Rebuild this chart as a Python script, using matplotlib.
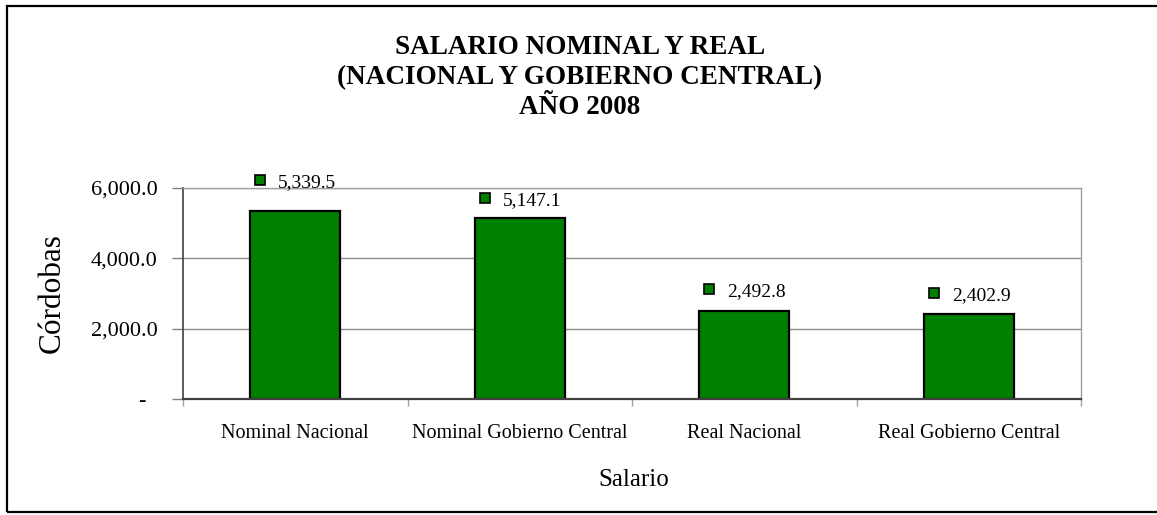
import matplotlib
matplotlib.use("Agg")
import matplotlib.pyplot as plt
import matplotlib.transforms as mtransforms
from matplotlib.patches import Rectangle

categories = ["Nominal Nacional", "Nominal Gobierno Central", "Real Nacional", "Real Gobierno Central"]
values = [5339.5, 5147.1, 2492.8, 2402.9]
value_labels = ["5,339.5", "5,147.1", "2,492.8", "2,402.9"]
yticks = [0, 2000, 4000, 6000]
ytick_labels = ["-  ", "2,000.0", "4,000.0", "6,000.0"]
title = "SALARIO NOMINAL Y REAL\n(NACIONAL Y GOBIERNO CENTRAL)\nAÑO 2008"

# layout constants (pixel offsets of data labels above bar tops)
label_offsets_px = [31, 20, 22, 21]

W, H, DPI = 1157, 515, 100
plt.rcParams['font.family'] = ['Liberation Serif', 'DejaVu Serif']

fig = plt.figure(figsize=(W / DPI, H / DPI), dpi=DPI)
fig.patch.set_facecolor("white")

# outer border
fig.patches.append(Rectangle((7 / W, 3 / H), 1.2, (H - 9) / H, transform=fig.transFigure,
                             fill=False, edgecolor="black", linewidth=1.6, clip_on=False))

ax = fig.add_axes([183 / W, (H - 399) / H, (1081 - 183) / W, (399 - 188) / H])
green = "#008000"
x = list(range(len(categories)))
ax.bar(x, values, width=0.4, color=green, edgecolor="black", linewidth=1.6, zorder=3)

ax.set_xlim(-0.5, len(categories) - 0.5)
ax.set_ylim(0, 6000)

ax.grid(axis="y", color="#8c8c8c", linewidth=1.0, zorder=0)
ax.set_yticks(yticks)
ax.set_yticklabels(ytick_labels)
ax.tick_params(axis="y", direction="out", length=8, width=1.0, color="#808080", labelsize=16, pad=10.5)

ax.set_xticks([i - 0.5 for i in range(len(categories) + 1)])
ax.set_xticklabels([])
ax.tick_params(axis="x", which="major", direction="out", length=5, width=1.0, color="#a0a0a0")
ax.set_xticks(x, minor=True)
ax.set_xticklabels(categories, minor=True)
ax.tick_params(axis="x", which="minor", length=0, labelsize=14.5, pad=18)

for s in ["top", "right"]:
    ax.spines[s].set_color("#a0a0a0")
    ax.spines[s].set_linewidth(1.0)
ax.spines["left"].set_color("#404040")
ax.spines["bottom"].set_color("#404040")
ax.spines["left"].set_linewidth(1.2)
ax.spines["bottom"].set_linewidth(1.6)
ax.spines["bottom"].set_zorder(4)

for i, (v, t) in enumerate(zip(values, value_labels)):
    off = label_offsets_px[i] * 72 / DPI
    ax.plot([i], [v], marker="s", markersize=7.5, markerfacecolor=green, markeredgecolor="black",
            markeredgewidth=1.2, linestyle="none", clip_on=False, zorder=5,
            transform=ax.transData + mtransforms.ScaledTranslation(-35 / DPI, label_offsets_px[i] / DPI,
                                                                  fig.dpi_scale_trans))
    ax.annotate(t, xy=(i, v), xytext=(-17 * 72 / DPI, off - 7 * 72 / DPI), textcoords="offset points",
                ha="left", va="baseline", fontsize=14, annotation_clip=False)

ax.set_ylabel("Córdobas", fontsize=22.5)
ax.yaxis.set_label_coords((52 - 183) / (1081 - 183), 0.5)
ax.set_xlabel("Salario", fontsize=18)
ax.xaxis.set_label_coords((634 - 183) / (1081 - 183), -(480 - 399) / (399 - 188))
ax.xaxis.label.set_va("center")
ax.yaxis.label.set_va("center")

fig.text(580 / W, 1 - 35 / H, title, ha="center", va="top", fontsize=19.5, fontweight="bold",
         linespacing=1.27)

fig.savefig("out.png", dpi=DPI)
